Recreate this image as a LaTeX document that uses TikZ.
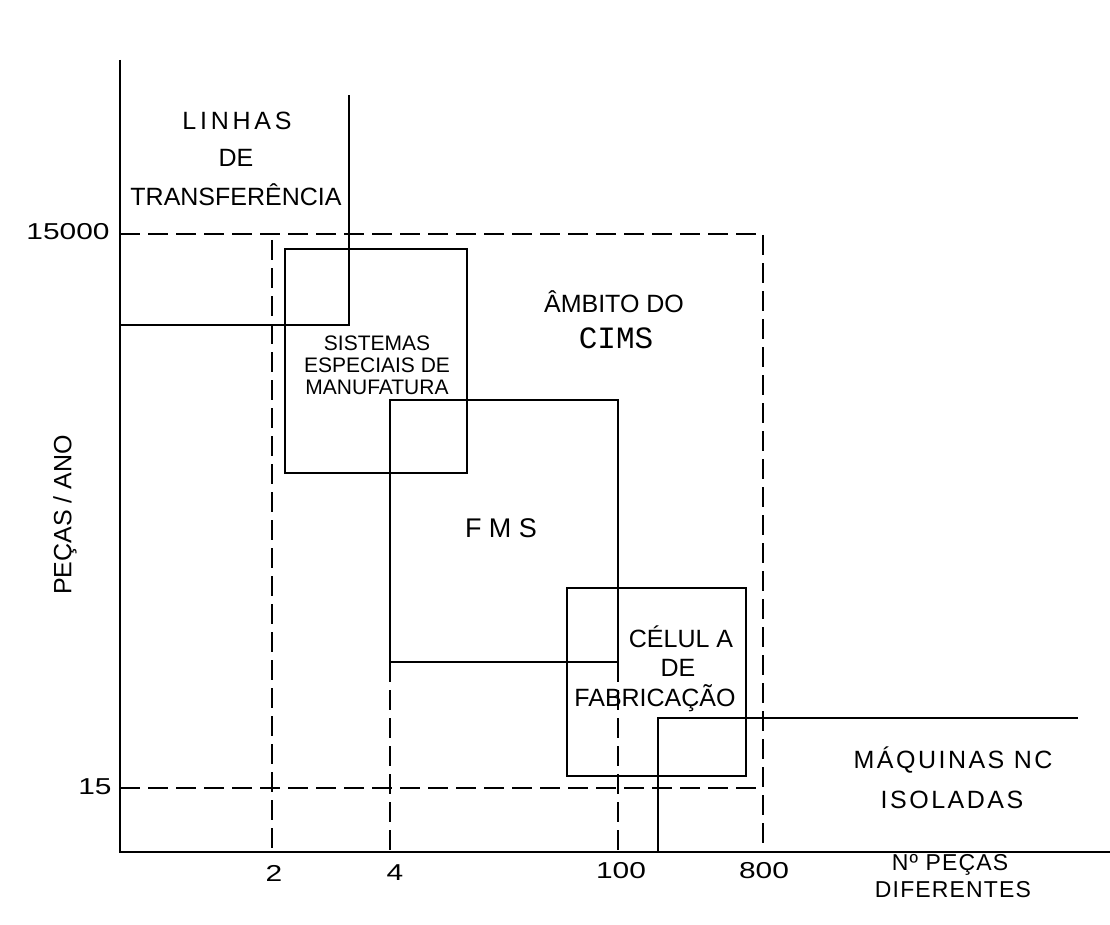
\documentclass[tikz,border=0pt]{standalone}
\usepackage{fontspec}
\setmainfont{Liberation Sans}
\newfontfamily\numfont[FakeStretch=1.3]{Liberation Sans}
\newfontfamily\cimsfont{Liberation Mono}
\begin{document}
\begin{tikzpicture}[x=1pt,y=-1pt,
  solidline/.style={line width=2.2pt, line join=miter},
  dashline/.style={line width=1.9pt, dash pattern=on 20pt off 8pt},
  lbl/.style={inner sep=0pt, align=center, font=\fontsize{25}{37}\selectfont},
  numlbl/.style={inner sep=0pt, font=\numfont\fontsize{23}{28}\selectfont}]
\useasboundingbox (0,0) rectangle (1110,925);
% axes
\draw[solidline] (120,60) -- (120,852) -- (1110,852);
% Linhas de transferencia
\draw[solidline] (120,325) -- (349,325) -- (349,95);
% CIMS dashed frame
\draw[dashline] (120,234) -- (763,234) -- (763,852);
\draw[dashline] (120,788) -- (763,788);
\draw[dashline] (272,240) -- (272,852);
\draw[dashline] (390,662) -- (390,852);
\draw[dashline] (618,662) -- (618,852);
% boxes
\draw[solidline] (285,249) rectangle (467,473);
\draw[solidline] (390,400) rectangle (618,662);
\draw[solidline] (567,588) rectangle (746,776);
\draw[solidline] (658,852) -- (658,718) -- (1078,718);
% labels
\node[lbl, font=\fontsize{25}{37}\selectfont\addfontfeature{LetterSpace=15}] (linhas) at (237,121) {LINHAS};
\node[lbl] (de1) at (236,158) {DE};
\node[lbl] (transf) at (236,195) {TRANSFERÊNCIA};
\node[lbl] (ambito) at (614,302) {ÂMBITO DO};
\node[inner sep=0pt, font=\cimsfont\fontsize{31}{36}\selectfont] (cims) at (616,338) {CIMS};
\node[lbl, font=\fontsize{21}{22}\selectfont] (sistemas) at (377,365) {SISTEMAS\\ESPECIAIS DE\\MANUFATURA};
\node[lbl, font=\fontsize{27}{30}\selectfont] (fms) at (501,528) {F M S};
\node[lbl] (celula) at (681,637) {CÉLUL A};
\node[lbl] (de2) at (678,668) {DE};
\node[lbl] (fabric) at (655,698) {FABRICAÇÃO};
\node[lbl, font=\fontsize{25}{37}\selectfont\addfontfeature{LetterSpace=10}] (maq) at (953,760) {MÁQUINAS NC};
\node[lbl, font=\fontsize{25}{37}\selectfont\addfontfeature{LetterSpace=10}] (isol) at (952,800) {ISOLADAS};
\node[lbl, font=\fontsize{23}{25}\selectfont\addfontfeature{LetterSpace=5}] (npecas) at (950,865) {Nº PEÇAS};
\node[lbl, font=\fontsize{23}{25}\selectfont\addfontfeature{LetterSpace=5}] (difer) at (953,890) {DIFERENTES};
\node[lbl, rotate=90] (pecasano) at (65,515) {PEÇAS / ANO};
% axis numbers
\node[numlbl] (n15000) at (68,232) {15000};
\node[numlbl] (n15) at (95,787) {15};
\node[numlbl] (n2) at (274,873) {2};
\node[numlbl] (n4) at (395,873) {4};
\node[numlbl] (n100) at (621,871) {100};
\node[numlbl] (n800) at (764,871) {800};
\end{tikzpicture}
\end{document}
